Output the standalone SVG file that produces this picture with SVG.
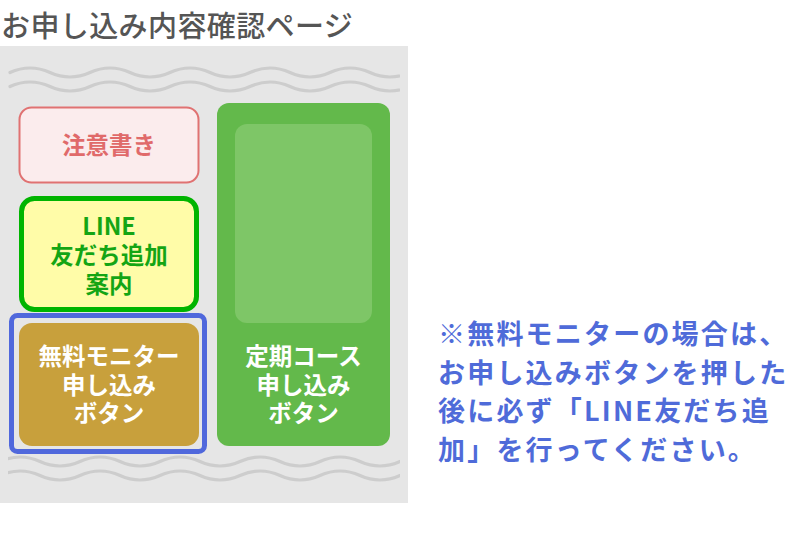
<svg xmlns="http://www.w3.org/2000/svg" width="800" height="550" viewBox="0 0 800 550">
<style>
text{font-family:"Noto Sans CJK JP","Noto Sans",sans-serif;text-anchor:middle}
.title{font-size:29px;font-weight:500;fill:#555555;text-anchor:start;letter-spacing:0.4px}
.wave{fill:none;stroke:#cdcdcd;stroke-width:3.2;stroke-linecap:round}
.note{font-size:27px;font-weight:700;fill:#4f6bd9;text-anchor:start;letter-spacing:2.2px}
.lbl{font-size:23.5px;font-weight:700}
</style>
<defs>
<clipPath id="wc"><rect x="8" y="40" width="392" height="460"/></clipPath>
</defs>
<rect width="800" height="550" fill="#ffffff"/>
<text class="title" x="1" y="37">お申し込み内容確認ページ</text>
<rect id="page" x="0" y="46" width="408" height="457" fill="#e6e6e6"/>
<g id="waves" clip-path="url(#wc)">
<path class="wave" d="M10 72.5 q20 -9 40 0 t40 0 t40 0 t40 0 t40 0 t40 0 t40 0 t40 0 t40 0 t40 0 t40 0"/>
<path class="wave" d="M10 86.5 q20 -9 40 0 t40 0 t40 0 t40 0 t40 0 t40 0 t40 0 t40 0 t40 0 t40 0 t40 0"/>
<path class="wave" d="M0 461.5 q20 -9 40 0 t40 0 t40 0 t40 0 t40 0 t40 0 t40 0 t40 0 t40 0 t40 0 t40 0"/>
<path class="wave" d="M0 475.5 q20 -9 40 0 t40 0 t40 0 t40 0 t40 0 t40 0 t40 0 t40 0 t40 0 t40 0 t40 0"/>
</g>
<g id="note-box">
<rect x="19.5" y="107.5" width="179" height="75" rx="12" fill="#fbeced" stroke="#e07272" stroke-width="2"/>
<text class="lbl" x="109" y="154" fill="#e06a6a">注意書き</text>
</g>
<g id="line-box">
<rect x="21.5" y="198.5" width="175" height="111" rx="13" fill="#fffca8" stroke="#00b400" stroke-width="5"/>
<text class="lbl" x="109" y="234.5" fill="#14a514">LINE</text>
<text class="lbl" x="109" y="263.5" fill="#14a514">友だち追加</text>
<text class="lbl" x="109" y="292.5" fill="#14a514">案内</text>
</g>
<g id="monitor-button">
<rect x="11.5" y="315.5" width="193" height="136" rx="6" fill="none" stroke="#5068dc" stroke-width="5"/>
<rect x="19" y="323" width="180" height="123" rx="13" fill="#c8a03c"/>
<text class="lbl" x="109" y="365" fill="#ffffff" font-weight="500">無料モニター</text>
<text class="lbl" x="109" y="393.5" fill="#ffffff" font-weight="500">申し込み</text>
<text class="lbl" x="109" y="422" fill="#ffffff" font-weight="500">ボタン</text>
</g>
<g id="regular-button">
<rect x="217" y="103" width="173" height="343" rx="12" fill="#63b94b"/>
<rect x="235" y="124" width="137" height="199" rx="12" fill="#7ec667"/>
<text class="lbl" x="303.5" y="365" fill="#ffffff" font-weight="500">定期コース</text>
<text class="lbl" x="303.5" y="393.5" fill="#ffffff" font-weight="500">申し込み</text>
<text class="lbl" x="303.5" y="422" fill="#ffffff" font-weight="500">ボタン</text>
</g>
<g id="note">
<text class="note" x="438" y="344">※無料モニターの場合は、</text>
<text class="note" x="438" y="382.5">お申し込みボタンを押した</text>
<text class="note" x="438" y="421">後に必ず「LINE友だち追</text>
<text class="note" x="438" y="459.5">加」を行ってください。</text>
</g>
<g id="connectors"></g>
</svg>
